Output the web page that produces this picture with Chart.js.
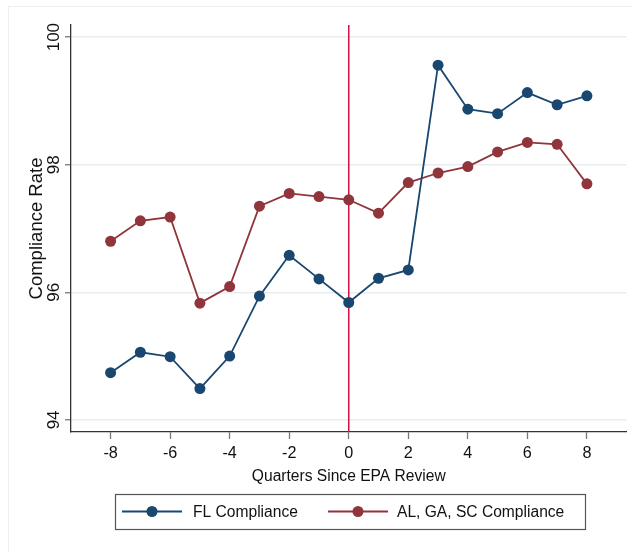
<!DOCTYPE html>
<html>
<head>
<meta charset="utf-8">
<script src="https://cdn.jsdelivr.net/npm/chart.js@4.4.1/dist/chart.umd.min.js"></script>
<style>
  html, body { margin: 0; padding: 0; background: #fff; }
  canvas { display: block; }
</style>
</head>
<body>
<canvas id="chart" width="632" height="552"></canvas>
<script>
// Quarters relative to the EPA review (quarter 0)
const quarters = [-8, -7, -6, -5, -4, -3, -2, -1, 0, 1, 2, 3, 4, 5, 6, 7, 8];

// Compliance rates (%) by quarter
const flCompliance = [94.74, 95.06, 94.99, 94.49, 95.00, 95.94, 96.58, 96.21, 95.84,
                      96.22, 96.35, 99.56, 98.87, 98.80, 99.13, 98.94, 99.08];
const alGaScCompliance = [96.80, 97.12, 97.18, 95.83, 96.09, 97.35, 97.55, 97.50, 97.45,
                          97.24, 97.72, 97.87, 97.97, 98.20, 98.35, 98.32, 97.70];

const seriesLabels = ['FL Compliance', 'AL, GA, SC Compliance'];
const xTickValues = [-8, -6, -4, -2, 0, 2, 4, 6, 8];
const yTickValues = [94, 96, 98, 100];
const reviewQuarter = 0;

const BLUE = '#1a476f';
const MAROON = '#90353b';
const FONT = '"Liberation Sans", Arial, Helvetica, sans-serif';

const toPoints = ys => quarters.map((q, i) => ({ x: q, y: ys[i] }));

// Background and faint outer frame of the graph region
const framePlugin = {
  id: 'frame',
  beforeDraw(chart) {
    const ctx = chart.ctx;
    ctx.save();
    ctx.fillStyle = '#fff';
    ctx.fillRect(0, 0, chart.width, chart.height);
    ctx.strokeStyle = '#eceff1';
    ctx.lineWidth = 1;
    ctx.strokeRect(8.5, 6.5, chart.width + 20, chart.height + 20);
    ctx.restore();
  }
};

// Vertical reference line at the review quarter
const reviewLinePlugin = {
  id: 'reviewLine',
  beforeDatasetsDraw(chart) {
    const { ctx, chartArea, scales } = chart;
    const x = scales.x.getPixelForValue(reviewQuarter);
    ctx.save();
    ctx.strokeStyle = '#d2123f';
    ctx.lineWidth = 1.5;
    ctx.beginPath();
    ctx.moveTo(x, chartArea.top);
    ctx.lineTo(x, chartArea.bottom);
    ctx.stroke();
    ctx.restore();
  }
};

// Boxed legend below the plot: line-with-marker keys
const boxedLegendPlugin = {
  id: 'boxedLegend',
  afterDraw(chart) {
    const ctx = chart.ctx;
    const box = { left: 115, top: 494, right: 585, bottom: 529 };
    const cy = (box.top + box.bottom) / 2;
    const keyStarts = [122, 328];
    const textStarts = [193, 397];
    ctx.save();
    ctx.strokeStyle = '#555';
    ctx.lineWidth = 1.2;
    ctx.strokeRect(box.left + 0.5, box.top + 0.5, box.right - box.left, box.bottom - box.top);
    chart.data.datasets.forEach((ds, i) => {
      const x0 = keyStarts[i];
      ctx.strokeStyle = ds.borderColor;
      ctx.lineWidth = 1.8;
      ctx.beginPath();
      ctx.moveTo(x0, cy);
      ctx.lineTo(x0 + 60, cy);
      ctx.stroke();
      ctx.fillStyle = ds.backgroundColor;
      ctx.beginPath();
      ctx.arc(x0 + 30, cy, 5.5, 0, Math.PI * 2);
      ctx.fill();
      ctx.fillStyle = '#111';
      ctx.font = '15.6px ' + FONT;
      ctx.textBaseline = 'middle';
      ctx.textAlign = 'left';
      ctx.fillText(ds.label, textStarts[i], cy + 1);
    });
    ctx.restore();
  }
};

new Chart(document.getElementById('chart'), {
  type: 'line',
  data: {
    datasets: [
      { label: seriesLabels[0], data: toPoints(flCompliance),
        borderColor: BLUE, backgroundColor: BLUE },
      { label: seriesLabels[1], data: toPoints(alGaScCompliance),
        borderColor: MAROON, backgroundColor: MAROON }
    ]
  },
  options: {
    responsive: false,
    animation: false,
    devicePixelRatio: 1,
    layout: { padding: { left: 0, top: 25, right: 3, bottom: 64 } },
    elements: {
      line: { borderWidth: 1.8, tension: 0 },
      point: { radius: 5.5, borderWidth: 0, hoverRadius: 5.5 }
    },
    plugins: { legend: { display: false }, tooltip: { enabled: false } },
    scales: {
      x: {
        type: 'linear',
        min: -9.33,
        max: 9.33,
        afterBuildTicks: s => { s.ticks = xTickValues.map(v => ({ value: v })); },
        afterFit: s => { s.height = 56; },
        ticks: { font: { family: FONT, size: 16.2 }, color: '#111', padding: 5,
                 maxRotation: 0, autoSkip: false },
        grid: { drawOnChartArea: false, tickLength: 7, tickColor: '#777', tickWidth: 1.3 },
        border: { color: '#333', width: 1.3 },
        title: { display: true, text: 'Quarters Since EPA Review', color: '#111',
                 font: { family: FONT, size: 15.6 }, padding: { top: 0, bottom: 2 } }
      },
      y: {
        type: 'linear',
        min: 93.81,
        max: 100.19,
        afterBuildTicks: s => { s.ticks = yTickValues.map(v => ({ value: v })); },
        afterFit: s => { s.width = 71; },
        ticks: { font: { family: FONT, size: 17 }, color: '#111', padding: -3.5,
                 minRotation: 90, maxRotation: 90, crossAlign: 'center' },
        grid: { color: '#e8eef0', lineWidth: 1.5, tickLength: 6, tickColor: '#777', tickWidth: 1.3 },
        border: { color: '#333', width: 1.3 },
        title: { display: true, text: 'Compliance Rate', color: '#111',
                 font: { family: FONT, size: 18.5 }, padding: { top: 26 } }
      }
    }
  },
  plugins: [framePlugin, reviewLinePlugin, boxedLegendPlugin]
});
</script>
</body>
</html>
